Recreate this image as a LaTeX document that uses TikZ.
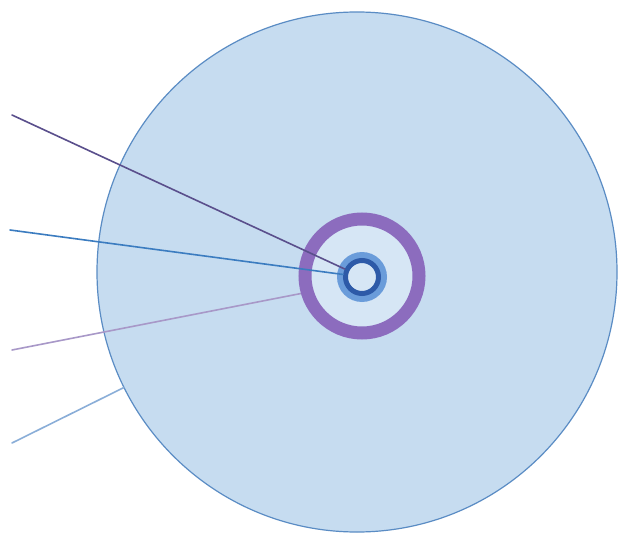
\documentclass[tikz,border=0pt]{standalone}
\begin{document}
\begin{tikzpicture}[x=1pt,y=-1pt,
  ringstyle/.style={circle,inner sep=0pt,outer sep=0pt},
  leader/.style={line width=1.6pt,line cap=round}]
\definecolor{discfill}{HTML}{C6DCF0}
\definecolor{discedge}{HTML}{5A8CC4}
\definecolor{purplering}{HTML}{8C6CBE}
\definecolor{innerlight}{HTML}{D6E6F5}
\definecolor{halo}{HTML}{6A9CDA}
\definecolor{darkring}{HTML}{2D5AA8}
\definecolor{lineA}{HTML}{5A4F8C}
\definecolor{lineB}{HTML}{3B7CC0}
\definecolor{lineC}{HTML}{A898C8}
\definecolor{lineD}{HTML}{8AAED8}
\useasboundingbox (0,0) rectangle (618,540);
\fill[white] (0,0) rectangle (618,540);
% big disc
\node[ringstyle,minimum size=520pt,draw=discedge,fill=discfill,line width=1.2pt] (disc) at (357,272) {};
% coordinates of free ends
\coordinate (a) at (12,115);
\coordinate (b) at (10,230);
\coordinate (c) at (12,350);
\coordinate (d) at (12,443);
\node[ringstyle,minimum size=127pt] (pout) at (362,276) {};
\draw[leader,lineC] (c) -- (pout.196);
\draw[leader,lineD] (d) -- (disc);
% purple ring
\node[ringstyle,minimum size=114pt,draw=purplering,line width=13pt,fill=innerlight] (pring) at (362,276) {};
% hub
\node[ringstyle,minimum size=50pt,fill=halo] (halo) at (362,277) {};
\node[ringstyle,minimum size=33pt,draw=darkring,line width=5pt,fill=innerlight] (hub) at (362,277) {};
\node[ringstyle,minimum size=38pt] (hubout) at (362,277) {};
% leader lines over the rings
\draw[leader,lineA] (a) -- (hubout);
\draw[leader,lineB] (b) -- (hubout);
\end{tikzpicture}
\end{document}
